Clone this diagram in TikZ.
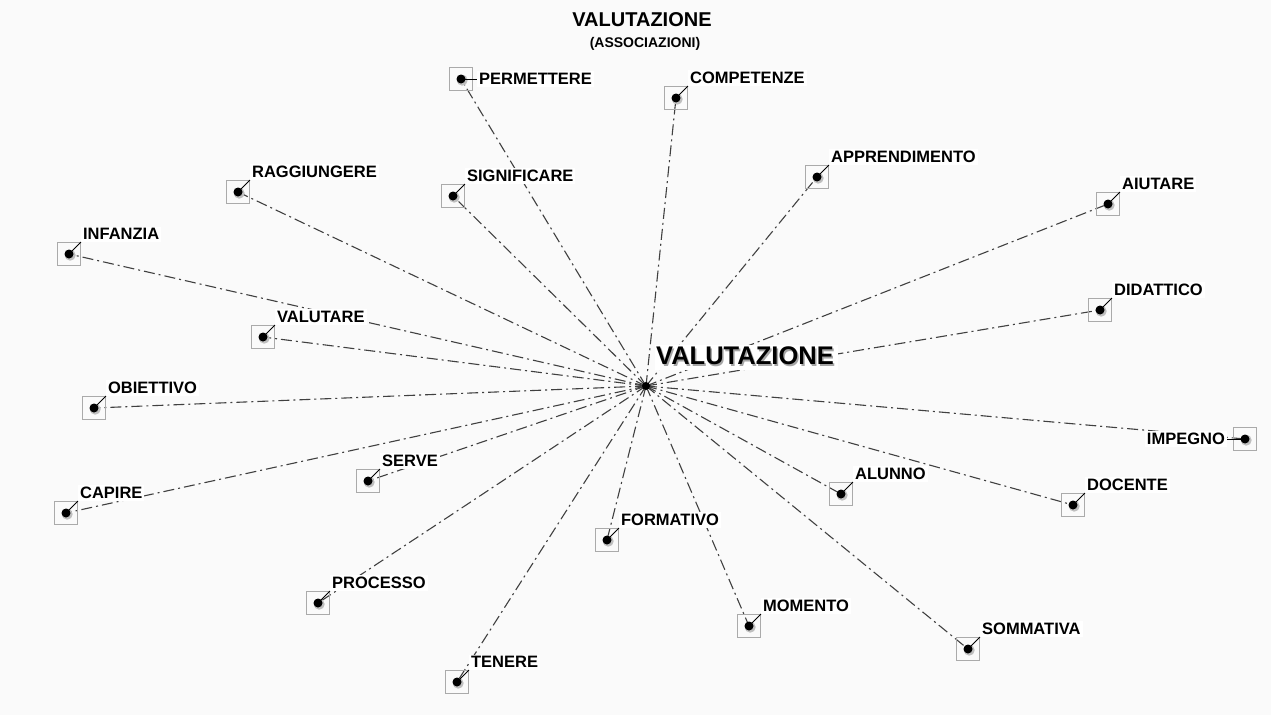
\documentclass[tikz,border=0pt]{standalone}
\usepackage{fontspec}
\setmainfont{Liberation Sans}
\usetikzlibrary{positioning}

\definecolor{paper}{HTML}{FAFAFA}
\definecolor{boxgray}{HTML}{AAAAAA}
\definecolor{linegray}{HTML}{404040}

\tikzset{
  wordbox/.style={draw=boxgray,line width=0.9pt,minimum size=23pt,inner sep=0pt,
    path picture={\fill[black!25] ([shift={(1.2pt,-1.2pt)}]path picture bounding box.center) circle (5.5pt);
                  \fill[black] (path picture bounding box.center) circle (4.5pt);}},
  word/.style={fill=white,inner sep=2pt,font=\fontsize{16.5}{18}\selectfont\bfseries},
  stub/.style={draw=black,line width=1pt},
  assoc/.style={draw=linegray,line width=1.1pt,dash pattern=on 11pt off 4pt on 2pt off 4pt}
}

\begin{document}
\begin{tikzpicture}[x=1pt,y=-1pt,node distance=0pt]

    \fill[paper] (0,0) rectangle (1271,715);
    \useasboundingbox (0,0) rectangle (1271,715);

    \node[font=\fontsize{20}{22}\selectfont\bfseries] (title) at (642,20) {VALUTAZIONE};
    \node[font=\fontsize{14}{16}\selectfont\bfseries] (subtitle) at (645,44) {(ASSOCIAZIONI)};

    \coordinate (hub) at (646,386);

    % word positions
    \coordinate (perm) at (461,79);
    \coordinate (comp) at (676,98);
    \coordinate (appr) at (817,177);
    \coordinate (aiut) at (1108,204);
    \coordinate (dida) at (1100,310);
    \coordinate (impe) at (1245,439);
    \coordinate (doce) at (1073,505);
    \coordinate (somm) at (968,649);
    \coordinate (alun) at (841,494);
    \coordinate (mome) at (749,626);
    \coordinate (form) at (607,540);
    \coordinate (tene) at (457,682);
    \coordinate (proc) at (318,603);
    \coordinate (serv) at (368,481);
    \coordinate (capi) at (66,513);
    \coordinate (obie) at (94,408);
    \coordinate (valu) at (263,337);
    \coordinate (infa) at (69,254);
    \coordinate (ragg) at (238,192);
    \coordinate (sign) at (453,196);

    % associations
    \path[assoc] (hub) edge (perm) edge (comp) edge (appr) edge (aiut) edge (dida)
                       edge (impe) edge (doce) edge (somm) edge (alun) edge (mome)
                       edge (form) edge (tene) edge (proc) edge (serv) edge (capi)
                       edge (obie) edge (valu) edge (infa) edge (ragg) edge (sign);

    \fill[black] (hub) circle (4pt);

    % boxes
    \node[wordbox] (perm-b) at (perm) {};
    \node[wordbox] (comp-b) at (comp) {};
    \node[wordbox] (appr-b) at (appr) {};
    \node[wordbox] (aiut-b) at (aiut) {};
    \node[wordbox] (dida-b) at (dida) {};
    \node[wordbox] (impe-b) at (impe) {};
    \node[wordbox] (doce-b) at (doce) {};
    \node[wordbox] (somm-b) at (somm) {};
    \node[wordbox] (alun-b) at (alun) {};
    \node[wordbox] (mome-b) at (mome) {};
    \node[wordbox] (form-b) at (form) {};
    \node[wordbox] (tene-b) at (tene) {};
    \node[wordbox] (proc-b) at (proc) {};
    \node[wordbox] (serv-b) at (serv) {};
    \node[wordbox] (capi-b) at (capi) {};
    \node[wordbox] (obie-b) at (obie) {};
    \node[wordbox] (valu-b) at (valu) {};
    \node[wordbox] (infa-b) at (infa) {};
    \node[wordbox] (ragg-b) at (ragg) {};
    \node[wordbox] (sign-b) at (sign) {};

    % labels
    \node[word,right=4pt of perm-b] (perm-t) {PERMETTERE};
    \node[word,above right=of comp-b] (comp-t) {COMPETENZE};
    \node[word,above right=of appr-b] (appr-t) {APPRENDIMENTO};
    \node[word,above right=of aiut-b] (aiut-t) {AIUTARE};
    \node[word,above right=of dida-b] (dida-t) {DIDATTICO};
    \node[word,left=6pt of impe-b] (impe-t) {IMPEGNO};
    \node[word,above right=of doce-b] (doce-t) {DOCENTE};
    \node[word,above right=of somm-b] (somm-t) {SOMMATIVA};
    \node[word,above right=of alun-b] (alun-t) {ALUNNO};
    \node[word,above right=of mome-b] (mome-t) {MOMENTO};
    \node[word,above right=of form-b] (form-t) {FORMATIVO};
    \node[word,above right=of tene-b] (tene-t) {TENERE};
    \node[word,above right=of proc-b] (proc-t) {PROCESSO};
    \node[word,above right=of serv-b] (serv-t) {SERVE};
    \node[word,above right=of capi-b] (capi-t) {CAPIRE};
    \node[word,above right=of obie-b] (obie-t) {OBIETTIVO};
    \node[word,above right=of valu-b] (valu-t) {VALUTARE};
    \node[word,above right=of infa-b] (infa-t) {INFANZIA};
    \node[word,above right=of ragg-b] (ragg-t) {RAGGIUNGERE};
    \node[word,above right=of sign-b] (sign-t) {SIGNIFICARE};

    % stubs
    \draw[stub] (perm) -- (perm-t.west);
    \draw[stub] (impe) -- (impe-t.east);
    \foreach \w in {comp,appr,aiut,dida,doce,somm,alun,mome,form,tene,
                    proc,serv,capi,obie,valu,infa,ragg,sign}
      \draw[stub] (\w) -- (\w-t.south west);

    % central word
    \node[fill=white,inner sep=3pt,anchor=west,font=\fontsize{25.5}{28}\selectfont\bfseries,text=black!35]
      (hub-s) at (654.5,357.5) {VALUTAZIONE};
    \node[inner sep=3pt,anchor=west,font=\fontsize{25.5}{28}\selectfont\bfseries]
      (hub-t) at (653,356) {VALUTAZIONE};

\end{tikzpicture}
\end{document}
